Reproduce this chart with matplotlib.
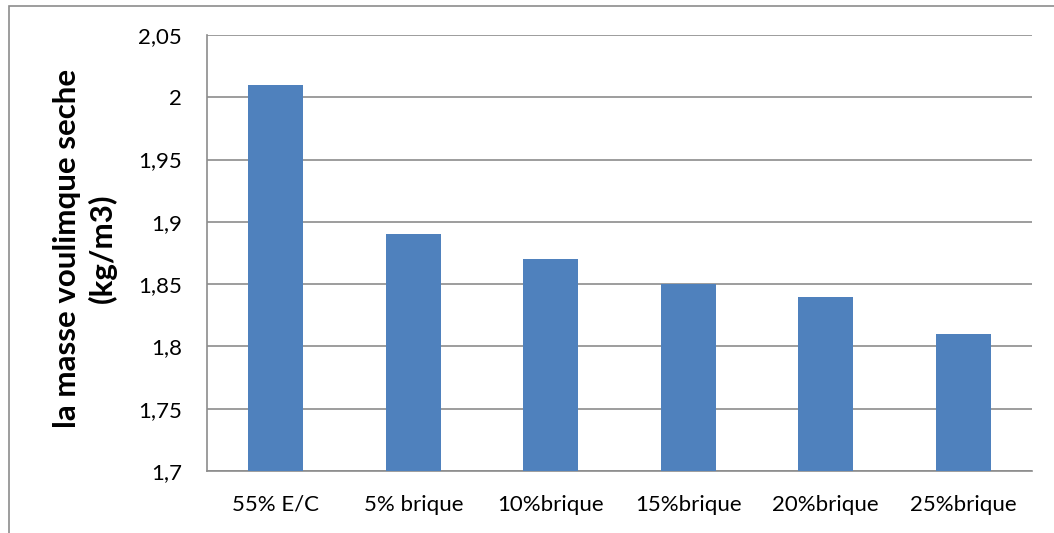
import matplotlib.pyplot as plt
import matplotlib.ticker as ticker
from matplotlib.patches import Rectangle

# data
categories = ["55% E/C", "5% brique", "10%brique", "15%brique", "20%brique", "25%brique"]
values = [2.01, 1.89, 1.87, 1.85, 1.84, 1.81]
y_ticks = [1.7, 1.75, 1.8, 1.85, 1.9, 1.95, 2.0, 2.05]

plt.rcParams['font.family'] = ['Lato', 'DejaVu Sans']


def comma_fmt(v, pos):
    # french style decimal separator
    s = ("%.2f" % v).rstrip("0").rstrip(".")
    return s.replace(".", ",")


def main():
    fig = plt.figure(figsize=(10.54, 5.33), dpi=100)
    ax = fig.add_axes([207 / 1054, 1 - 471 / 533, (1032 - 207) / 1054, (471 - 35) / 533])

    # outer frame of the chart (cut off on right and bottom)
    fig.patches.append(Rectangle((9 / 1054, -0.1), 1.2, 1 - 6 / 533 + 0.1,
                                 transform=fig.transFigure, fill=False,
                                 edgecolor="#8c8c8c", linewidth=1.2))

    x = range(len(categories))
    ax.bar(x, values, width=0.4, color="#4F81BD", zorder=3)

    ax.set_xlim(-0.5, len(categories) - 0.5)
    ax.set_ylim(1.7, 2.05)
    ax.set_yticks(y_ticks)
    ax.yaxis.set_major_formatter(ticker.FuncFormatter(comma_fmt))
    ax.set_xticks(list(x))
    ax.set_xticklabels(categories)

    ax.grid(axis="y", color="#8c8c8c", linewidth=1.2, zorder=0)
    for side in ["top", "right"]:
        ax.spines[side].set_visible(False)
    for side in ["left", "bottom"]:
        ax.spines[side].set_color("#8c8c8c")
        ax.spines[side].set_linewidth(1.2)

    ax.tick_params(axis="both", length=0, labelsize=16)
    ax.tick_params(axis="y", pad=18)
    ax.tick_params(axis="x", pad=17)

    ax.set_ylabel("la masse voulimque seche\n(kg/m3)", fontsize=22.5,
                  fontweight="bold", linespacing=1.3)
    ax.yaxis.set_label_coords(-0.109, 0.51)

    fig.savefig("out.png", dpi=100)


if __name__ == "__main__":
    main()
